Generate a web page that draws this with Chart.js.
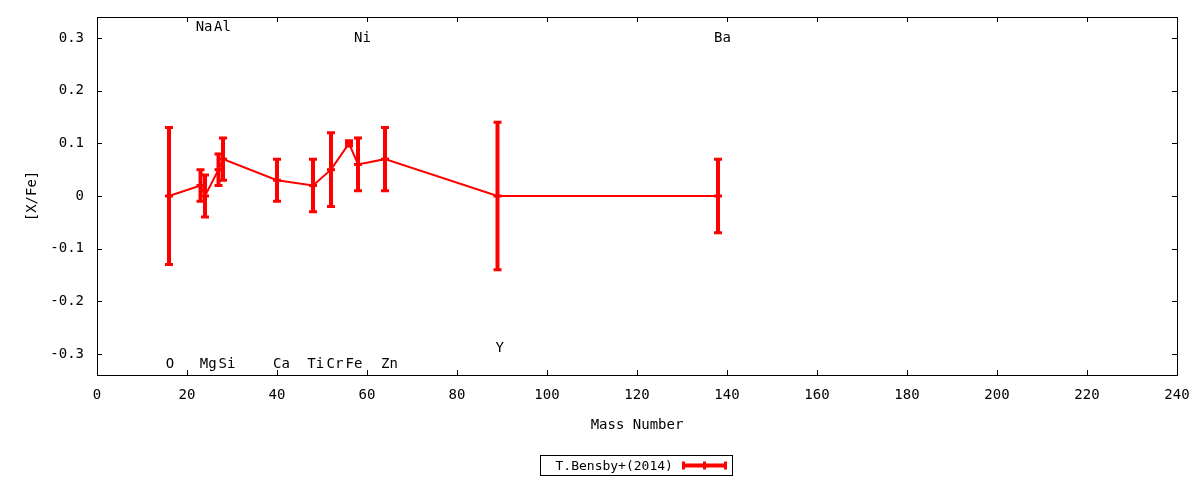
<!DOCTYPE html>
<html>
<head>
<meta charset="utf-8">
<script src="https://cdn.jsdelivr.net/npm/chart.js@4.4.1/dist/chart.umd.min.js"></script>
<style>
  html, body { margin: 0; padding: 0; background: #fff; }
  #wrap { width: 1200px; height: 480px; }
</style>
</head>
<body>
<div id="wrap"><canvas id="abundChart"></canvas></div>
<script>
// data
const massNumbers = [16, 23, 24, 27, 28, 40, 48, 52, 56, 58, 64, 89, 138];
const xFe         = [0, 0.02, 0, 0.05, 0.07, 0.03, 0.02, 0.05, 0.10, 0.06, 0.07, 0, 0];
const xFeErr      = [0.13, 0.03, 0.04, 0.03, 0.04, 0.04, 0.05, 0.07, 0.005, 0.05, 0.06, 0.14, 0.07];

// element name labels (placed where they sit in the picture)
const elemNames = ['O', 'Na', 'Mg', 'Al', 'Si', 'Ca', 'Ti', 'Cr', 'Fe', 'Ni', 'Zn', 'Y', 'Ba'];
const elemX     = [16.2, 23.8, 24.7, 27.9, 28.9, 41, 48.6, 52.9, 57.1, 59, 65, 89.5, 139];
const elemY     = [-0.32, 0.32, -0.32, 0.32, -0.32, -0.32, -0.32, -0.32, -0.32, 0.30, -0.32, -0.29, 0.30];

const xTicks = [0, 20, 40, 60, 80, 100, 120, 140, 160, 180, 200, 220, 240];
const yTicks = [-0.3, -0.2, -0.1, 0, 0.1, 0.2, 0.3];

const seriesName = 'T.Bensby+(2014)';
const RED = '#ff0000';
const FONT = '"DejaVu Sans Mono", monospace';
const FSIZE = 14;

const points = massNumbers.map((m, i) => ({ x: m, y: xFe[i] }));

// box, inward ticks on all four sides, error bars, element labels, legend
const gnuplotLook = {
    id: 'gnuplotLook',
    afterDatasetsDraw(chart) {
        const { ctx, chartArea: a, scales: { x, y } } = chart;
        ctx.save();

        // error bars
        ctx.strokeStyle = RED;
        massNumbers.forEach((m, i) => {
            const px = x.getPixelForValue(m);
            const top = y.getPixelForValue(xFe[i] + xFeErr[i]);
            const bot = y.getPixelForValue(xFe[i] - xFeErr[i]);
            ctx.lineWidth = 4;
            ctx.beginPath();
            ctx.moveTo(px, top);
            ctx.lineTo(px, bot);
            ctx.stroke();
            ctx.lineWidth = 3;
            ctx.beginPath();
            ctx.moveTo(px - 4, top); ctx.lineTo(px + 4, top);
            ctx.moveTo(px - 4, bot); ctx.lineTo(px + 4, bot);
            ctx.stroke();
        });

        // frame
        ctx.strokeStyle = '#000';
        ctx.lineWidth = 1;
        ctx.strokeRect(Math.round(a.left) + 0.5, Math.round(a.top) + 0.5,
                       Math.round(a.right - a.left), Math.round(a.bottom - a.top));

        ctx.beginPath();
        x.ticks.forEach(t => {
            const px = Math.round(x.getPixelForValue(t.value)) + 0.5;
            ctx.moveTo(px, a.bottom); ctx.lineTo(px, a.bottom - 5);
            ctx.moveTo(px, a.top); ctx.lineTo(px, a.top + 5);
        });
        y.ticks.forEach(t => {
            const py = Math.round(y.getPixelForValue(t.value)) + 0.5;
            ctx.moveTo(a.left, py); ctx.lineTo(a.left + 5, py);
            ctx.moveTo(a.right, py); ctx.lineTo(a.right - 5, py);
        });
        ctx.stroke();

        // element labels
        ctx.fillStyle = '#000';
        ctx.font = FSIZE + 'px ' + FONT;
        ctx.textAlign = 'center';
        ctx.textBaseline = 'middle';
        elemNames.forEach((n, i) => {
            ctx.fillText(n, x.getPixelForValue(elemX[i]), y.getPixelForValue(elemY[i]));
        });
        ctx.restore();
    },
    afterDraw(chart) {
        const { ctx, chartArea: a } = chart;
        const cx = (a.left + a.right) / 2;
        const bx = Math.round(cx - 97) + 0.5, by = 455.5, bw = 192, bh = 20;
        ctx.save();
        ctx.strokeStyle = '#000';
        ctx.lineWidth = 1;
        ctx.strokeRect(bx, by, bw, bh);
        ctx.fillStyle = '#000';
        ctx.font = '13px ' + FONT;
        ctx.textAlign = 'left';
        ctx.textBaseline = 'middle';
        ctx.fillText(seriesName, bx + 15, by + bh / 2 + 1);

        const x0 = bx + 143, x1 = bx + 185, ly = by + bh / 2;
        ctx.strokeStyle = RED;
        ctx.lineWidth = 4;
        ctx.beginPath();
        ctx.moveTo(x0, ly); ctx.lineTo(x1, ly);
        ctx.stroke();
        ctx.lineWidth = 3;
        ctx.beginPath();
        ctx.moveTo(x0, ly - 4); ctx.lineTo(x0, ly + 4);
        ctx.moveTo(x1, ly - 4); ctx.lineTo(x1, ly + 4);
        ctx.moveTo((x0 + x1) / 2, ly - 4); ctx.lineTo((x0 + x1) / 2, ly + 4);
        ctx.stroke();
        ctx.restore();
    }
};

Chart.defaults.font.family = FONT;
Chart.defaults.font.size = FSIZE;
Chart.defaults.color = '#000';

new Chart(document.getElementById('abundChart'), {
    type: 'line',
    data: {
        datasets: [{
            label: seriesName,
            data: points,
            borderColor: RED,
            backgroundColor: RED,
            borderWidth: 2,
            pointStyle: 'line',
            pointRadius: 4,
            pointBorderWidth: 3,
            pointHoverRadius: 4,
            tension: 0,
            fill: false
        }]
    },
    options: {
        responsive: true,
        maintainAspectRatio: false,
        animation: false,
        layout: { padding: { top: 17, right: 23, left: 0, bottom: 0 } },
        plugins: {
            legend: { display: false },
            tooltip: { enabled: false }
        },
        scales: {
            x: {
                type: 'linear',
                min: 0,
                max: 240,
                grid: { display: false, drawTicks: false },
                border: { display: false },
                afterFit(s) { s.height = 105; s.paddingLeft = 0; s.paddingRight = 0; },
                afterBuildTicks(s) { s.ticks = xTicks.map(v => ({ value: v })); },
                ticks: { padding: 12, maxRotation: 0, autoSkip: false },
                title: { display: true, text: 'Mass Number', padding: { top: 0, bottom: 46 } }
            },
            y: {
                type: 'linear',
                min: -0.34,
                max: 0.34,
                grid: { display: false, drawTicks: false },
                border: { display: false },
                afterFit(s) { s.width = 97; s.paddingTop = 0; s.paddingBottom = 0; },
                afterBuildTicks(s) { s.ticks = yTicks.map(v => ({ value: v })); },
                ticks: {
                    padding: 13,
                    autoSkip: false,
                    callback: v => (Math.abs(v) < 1e-9 ? '0' : v.toFixed(1))
                },
                title: { display: true, text: '[X/Fe]', padding: { top: 24, bottom: 0 } }
            }
        }
    },
    plugins: [gnuplotLook]
});
</script>
</body>
</html>
